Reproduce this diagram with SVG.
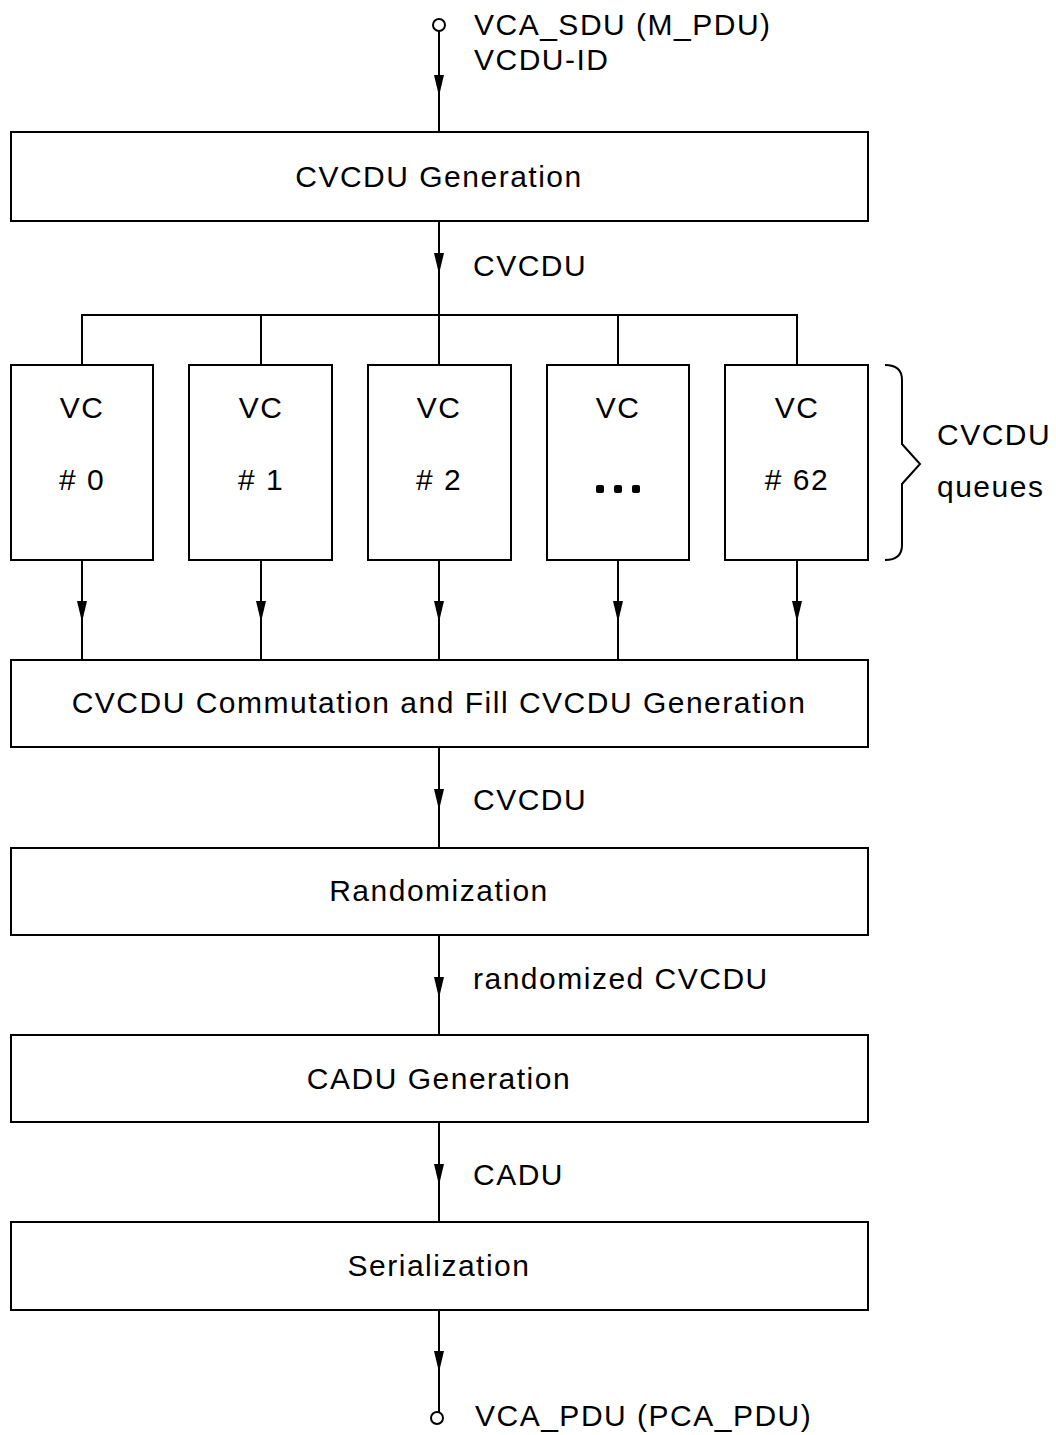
<svg xmlns="http://www.w3.org/2000/svg" width="1056" height="1435" viewBox="0 0 1056 1435">
<style>
.box{fill:#fff;stroke:#000;stroke-width:2}
.ln{fill:none;stroke:#000;stroke-width:2}
.ah{fill:#000;stroke:none}
text{font-family:"Liberation Sans",Arial,sans-serif;font-size:30px;letter-spacing:1.5px;fill:#000}
.c{text-anchor:middle}
</style>
<defs>
<path id="arr" d="M0,0 L-5,-21 L5,-21 Z"/>
</defs>
<rect width="1056" height="1435" fill="#fff"/>
<g id="connectors">
<line class="ln" x1="439" y1="31" x2="439" y2="132"/>
<use href="#arr" x="439" y="96" class="ah"/>
<line class="ln" x1="439" y1="221" x2="439" y2="315"/>
<use href="#arr" x="439" y="274" class="ah"/>
<path class="ln" d="M82,365 V315 H797 V365 M261,315 V365 M618,315 V365"/>
<line class="ln" x1="439" y1="315" x2="439" y2="365"/>
<line class="ln" x1="82" y1="560" x2="82" y2="660"/>
<line class="ln" x1="261" y1="560" x2="261" y2="660"/>
<line class="ln" x1="439" y1="560" x2="439" y2="660"/>
<line class="ln" x1="618" y1="560" x2="618" y2="660"/>
<line class="ln" x1="797" y1="560" x2="797" y2="660"/>
<use href="#arr" x="82" y="622" class="ah"/>
<use href="#arr" x="261" y="622" class="ah"/>
<use href="#arr" x="439" y="622" class="ah"/>
<use href="#arr" x="618" y="622" class="ah"/>
<use href="#arr" x="797" y="622" class="ah"/>
<line class="ln" x1="439" y1="747" x2="439" y2="848"/>
<use href="#arr" x="439" y="810" class="ah"/>
<line class="ln" x1="439" y1="935" x2="439" y2="1035"/>
<use href="#arr" x="439" y="998" class="ah"/>
<line class="ln" x1="439" y1="1122" x2="439" y2="1222"/>
<use href="#arr" x="439" y="1185" class="ah"/>
<line class="ln" x1="439" y1="1310" x2="439" y2="1412"/>
<use href="#arr" x="439" y="1372" class="ah"/>
<circle class="ln" cx="439" cy="25" r="6"/>
<circle class="ln" cx="437" cy="1418" r="6"/>
<text x="474" y="35">VCA_SDU (M_PDU)</text>
<text x="474" y="70">VCDU-ID</text>
<text x="473" y="276">CVCDU</text>
<text x="473" y="810">CVCDU</text>
<text x="473" y="989">randomized CVCDU</text>
<text x="473" y="1185">CADU</text>
<text x="475" y="1426">VCA_PDU (PCA_PDU)</text>
</g>
<g id="n-cvcdu-gen">
<rect class="box" x="11" y="132" width="857" height="89"/>
<text class="c" x="439" y="187">CVCDU Generation</text>
</g>
<g id="n-vc0">
<rect class="box" x="11" y="365" width="142" height="195"/>
<text class="c" x="82" y="418">VC</text>
<text class="c" x="82" y="490"># 0</text>
</g>
<g id="n-vc1">
<rect class="box" x="189" y="365" width="143" height="195"/>
<text class="c" x="261" y="418">VC</text>
<text class="c" x="261" y="490"># 1</text>
</g>
<g id="n-vc2">
<rect class="box" x="368" y="365" width="143" height="195"/>
<text class="c" x="439" y="418">VC</text>
<text class="c" x="439" y="490"># 2</text>
</g>
<g id="n-vcdots">
<rect class="box" x="547" y="365" width="142" height="195"/>
<text class="c" x="618" y="418">VC</text>
<rect x="596" y="485" width="8" height="8" rx="2"/>
<rect x="614" y="485" width="8" height="8" rx="2"/>
<rect x="632" y="485" width="8" height="8" rx="2"/>
</g>
<g id="n-vc62">
<rect class="box" x="725" y="365" width="143" height="195"/>
<text class="c" x="797" y="418">VC</text>
<text class="c" x="797" y="490"># 62</text>
</g>
<g id="n-queues">
<path class="ln" d="M885,365 Q902,365 902,380 V444 L920,464 L902,484 V545 Q902,560 885,560"/>
<text x="937" y="445">CVCDU</text>
<text x="937" y="497">queues</text>
</g>
<g id="n-commutation">
<rect class="box" x="11" y="660" width="857" height="87"/>
<text class="c" x="439" y="713">CVCDU Commutation and Fill CVCDU Generation</text>
</g>
<g id="n-random">
<rect class="box" x="11" y="848" width="857" height="87"/>
<text class="c" x="439" y="901">Randomization</text>
</g>
<g id="n-cadu">
<rect class="box" x="11" y="1035" width="857" height="87"/>
<text class="c" x="439" y="1089">CADU Generation</text>
</g>
<g id="n-serial">
<rect class="box" x="11" y="1222" width="857" height="88"/>
<text class="c" x="439" y="1276">Serialization</text>
</g>
</svg>
